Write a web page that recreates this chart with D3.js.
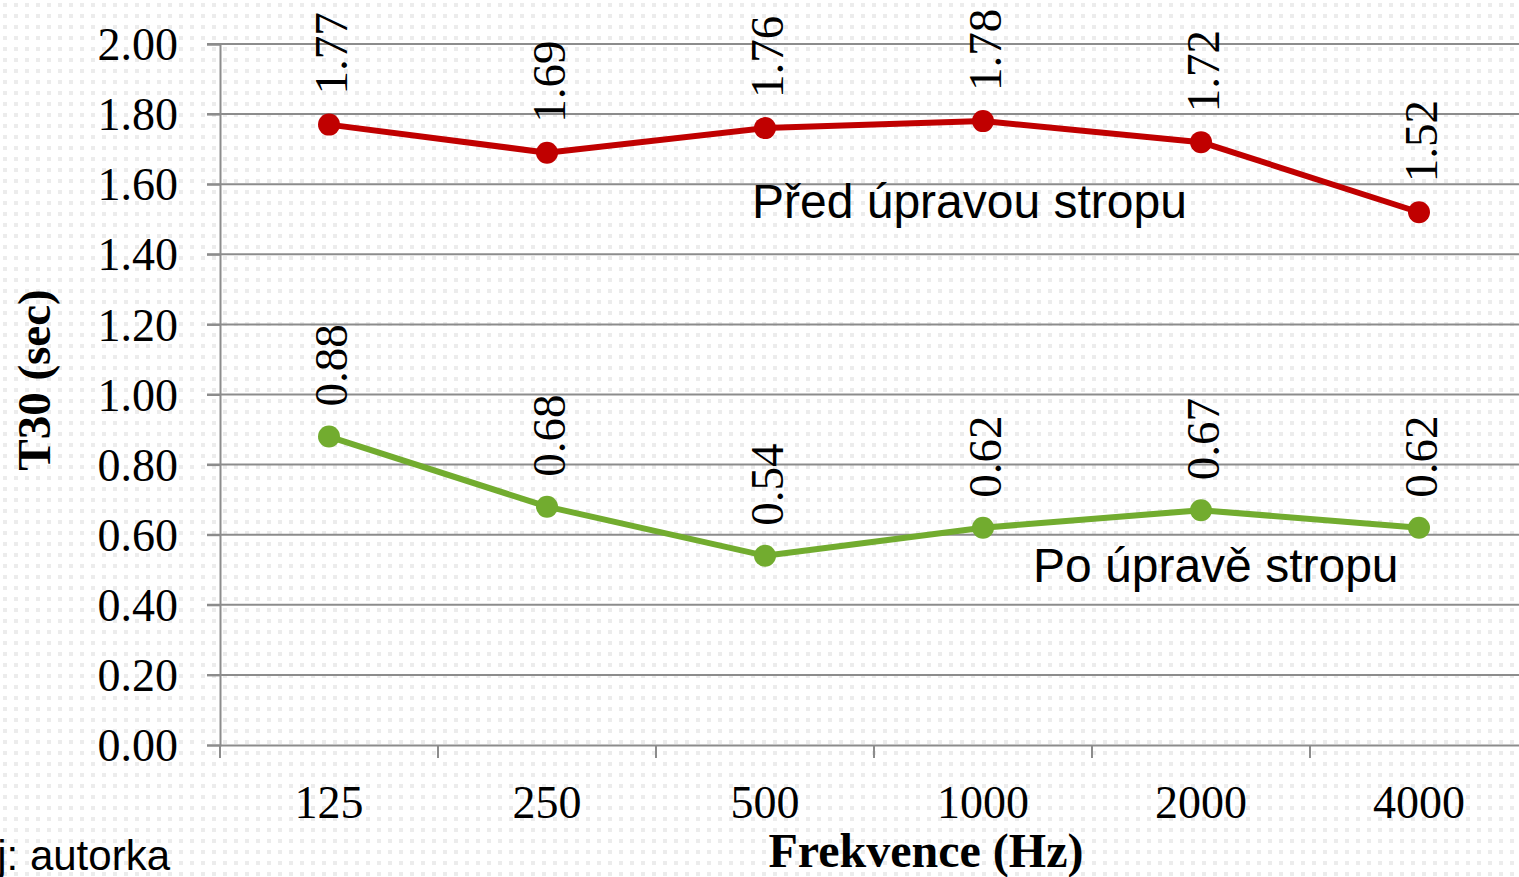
<!DOCTYPE html>
<html>
<head>
<meta charset="utf-8">
<script src="https://cdn.jsdelivr.net/npm/d3@7"></script>
<style>
  html, body { margin: 0; padding: 0; background: #fff; overflow: hidden; }
  svg { display: block; }
</style>
</head>
<body>
<div id="chart"></div>
<script>
// Data
const frekvence = ['125', '250', '500', '1000', '2000', '4000'];
const predUpravou = [1.77, 1.69, 1.76, 1.78, 1.72, 1.52];
const poUprave = [0.88, 0.68, 0.54, 0.62, 0.67, 0.62];
const yTicks = [0, 0.2, 0.4, 0.6, 0.8, 1.0, 1.2, 1.4, 1.6, 1.8, 2.0];

const width = 1519, height = 877;
const margin = { t: 44, r: -9, b: 132, l: 220 };

const svg = d3.select('#chart').append('svg')
    .attr('width', width)
    .attr('height', height);

// dotted background
const defs = svg.append('defs');
const pat = defs.append('pattern')
    .attr('id', 'dots')
    .attr('width', 11).attr('height', 11)
    .attr('patternUnits', 'userSpaceOnUse');
pat.append('rect').attr('width', 11).attr('height', 11).attr('fill', '#fff');
pat.append('rect').attr('x', 3).attr('y', 3).attr('width', 4).attr('height', 4).attr('fill', '#ececec');
svg.append('rect').attr('width', width).attr('height', height).attr('fill', 'url(#dots)');

const x = d3.scaleBand().domain(frekvence).range([margin.l, width - margin.r]);
const y = d3.scaleLinear().domain([0, 2]).range([height - margin.b, margin.t]);

const serif = 'Liberation Serif, Times New Roman, serif';
const sans = 'Liberation Sans, Arial, sans-serif';

// gridlines
svg.append('g').selectAll('line')
    .data(yTicks.slice(1))
    .join('line')
    .attr('x1', margin.l - 13).attr('x2', width)
    .attr('y1', d => y(d)).attr('y2', d => y(d))
    .attr('stroke', '#8c8c8c').attr('stroke-width', 2);

// y axis
const yAxis = svg.append('g')
    .attr('transform', `translate(${margin.l},0)`)
    .call(d3.axisLeft(y).tickValues(yTicks).tickFormat(d3.format('.2f')).tickSize(13).tickPadding(29));
yAxis.select('.domain').attr('stroke', '#8c8c8c').attr('stroke-width', 2);
yAxis.selectAll('.tick line').attr('stroke', '#8c8c8c').attr('stroke-width', 2);
yAxis.selectAll('.tick text')
    .attr('font-family', serif).attr('font-size', 46).attr('fill', '#000')
    .attr('dy', '0.34em');

// x axis
const xAxis = svg.append('g')
    .attr('transform', `translate(0,${y(0)})`)
    .call(d3.axisBottom(x).tickSize(0).tickPadding(40));
xAxis.select('.domain').attr('stroke', '#8c8c8c').attr('stroke-width', 2);
xAxis.selectAll('.tick text')
    .attr('font-family', serif).attr('font-size', 46).attr('fill', '#000');
// category separators
const seps = frekvence.map(f => x(f)).concat([x(frekvence[frekvence.length - 1]) + x.bandwidth()]);
svg.append('g').selectAll('line')
    .data(seps)
    .join('line')
    .attr('x1', d => d).attr('x2', d => d)
    .attr('y1', y(0)).attr('y2', y(0) + 13)
    .attr('stroke', '#8c8c8c').attr('stroke-width', 2);

// axis titles
svg.append('text')
    .attr('x', 926).attr('y', 867)
    .attr('text-anchor', 'middle')
    .attr('font-family', serif).attr('font-weight', 'bold').attr('font-size', 48)
    .text('Frekvence (Hz)');

svg.append('text')
    .attr('transform', `translate(50,380) rotate(-90)`)
    .attr('text-anchor', 'middle')
    .attr('font-family', serif).attr('font-weight', 'bold').attr('font-size', 47)
    .text('T30 (sec)');

// source note (cropped at left edge)
svg.append('text')
    .attr('x', 170).attr('y', 870)
    .attr('text-anchor', 'end')
    .attr('font-family', sans).attr('font-size', 42)
    .text('Zdroj: autorka');

// series
const cx = d => x(d) + x.bandwidth() / 2;
function drawSeries(values, color) {
    const pts = values.map((v, i) => [frekvence[i], v]);
    svg.append('path')
        .datum(pts)
        .attr('d', d3.line().x(d => cx(d[0])).y(d => y(d[1])))
        .attr('fill', 'none')
        .attr('stroke', color)
        .attr('stroke-width', 6)
        .attr('stroke-linejoin', 'round');
    svg.append('g').selectAll('circle')
        .data(pts)
        .join('circle')
        .attr('cx', d => cx(d[0])).attr('cy', d => y(d[1]))
        .attr('r', 11)
        .attr('fill', color);
    svg.append('g').selectAll('text')
        .data(pts)
        .join('text')
        .attr('transform', d => `translate(${cx(d[0]) + 2},${y(d[1]) - 30}) rotate(-90)`)
        .attr('dy', '0.34em')
        .attr('font-family', serif).attr('font-size', 47).attr('fill', '#000')
        .text(d => d3.format('.2f')(d[1]));
}
drawSeries(predUpravou, '#c00000');
drawSeries(poUprave, '#72ac2f');

// series names
svg.append('text')
    .attr('x', 752).attr('y', 218)
    .attr('font-family', sans).attr('font-size', 48)
    .text('Před úpravou stropu');
svg.append('text')
    .attr('x', 1033).attr('y', 582)
    .attr('font-family', sans).attr('font-size', 48)
    .text('Po úpravě stropu');
</script>
</body>
</html>
